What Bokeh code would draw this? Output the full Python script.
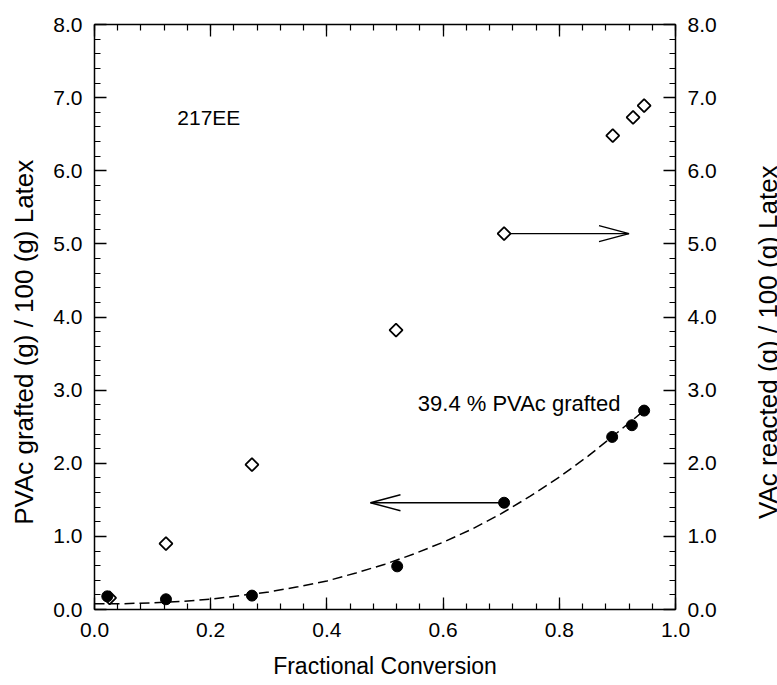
import math

from bokeh.embed import file_html
from bokeh.layouts import row
from bokeh.models import Label, LinearAxis, PrintfTickFormatter, Range1d, SingleIntervalTicker
from bokeh.plotting import figure
from bokeh.resources import INLINE

# PVAc grafted onto the latex (left axis) against fractional conversion
conversion = [0.022, 0.123, 0.271, 0.521, 0.705, 0.891, 0.925, 0.946]
pvac_grafted = [0.18, 0.14, 0.19, 0.59, 1.46, 2.36, 2.52, 2.72]

# VAc reacted (right axis) against fractional conversion
vac_conversion = [0.026, 0.123, 0.271, 0.519, 0.705, 0.892, 0.927, 0.946]
vac_reacted = [0.16, 0.90, 1.98, 3.82, 5.14, 6.48, 6.73, 6.89]

# fitted curve through the grafted PVAc points
fit_x = [0.0, 0.05, 0.1, 0.15, 0.2, 0.25, 0.3, 0.35, 0.4, 0.45, 0.5,
         0.55, 0.6, 0.65, 0.7, 0.75, 0.8, 0.85, 0.9, 0.946]
fit_y = [0.08, 0.08, 0.09, 0.11, 0.14, 0.19, 0.24, 0.31, 0.39, 0.50, 0.62,
         0.76, 0.92, 1.10, 1.31, 1.55, 1.81, 2.10, 2.42, 2.72]

x_tick_labels = ["0.0", "0.2", "0.4", "0.6", "0.8", "1.0"]
y_tick_labels = ["0.0", "1.0", "2.0", "3.0", "4.0", "5.0", "6.0", "7.0", "8.0"]

x_title = "Fractional Conversion"
left_title = "PVAc grafted (g) / 100 (g) Latex"
right_title = "VAc reacted (g) / 100 (g) Latex"
sample_name = "217EE"
graft_note = "39.4 % PVAc grafted"

FONT = "Liberation Sans"
W, H = 777, 685
STRIP_W = 20                      # narrow panel holding the right-hand title
MAIN_W = W - STRIP_W
LEFT, RIGHT, TOP, BOTTOM = 94, 102 - STRIP_W, 24, 76
FRAME_W = MAIN_W - LEFT - RIGHT
FRAME_H = H - TOP - BOTTOM

x_lo, x_hi = float(x_tick_labels[0]), float(x_tick_labels[-1])
y_lo, y_hi = float(y_tick_labels[0]), float(y_tick_labels[-1])
px_x = FRAME_W / (x_hi - x_lo)
px_y = FRAME_H / (y_hi - y_lo)

p = figure(
    width=MAIN_W, height=H,
    x_range=Range1d(x_lo, x_hi), y_range=Range1d(y_lo, y_hi),
    output_backend="svg", toolbar_location=None,
    min_border_left=LEFT, min_border_right=RIGHT,
    min_border_top=TOP, min_border_bottom=BOTTOM,
    x_axis_location=None, y_axis_location=None,
)
p.grid.visible = False
p.outline_line_color = None
p.background_fill_color = "white"
p.border_fill_color = "white"

x_ticker = SingleIntervalTicker(interval=0.2, num_minor_ticks=5)
y_ticker = SingleIntervalTicker(interval=1.0, num_minor_ticks=5)

# the left title sits a little below the middle of the axis
TITLE_PAD = "\u00a0" * 7


def make_axis(ticker, standoff, title=None, title_size="26px", title_standoff=10):
    ax = LinearAxis(ticker=ticker, formatter=PrintfTickFormatter(format="%.1f"))
    ax.axis_line_color = "black"
    ax.axis_line_width = 1.5
    ax.major_tick_in = 12
    ax.major_tick_out = 0
    ax.minor_tick_in = 6
    ax.minor_tick_out = 0
    ax.major_tick_line_width = 1.3
    ax.minor_tick_line_width = 1.2
    ax.major_tick_line_color = "black"
    ax.minor_tick_line_color = "black"
    ax.major_label_text_font = FONT
    ax.major_label_text_color = "black"
    ax.major_label_text_font_size = "21px"
    ax.major_label_standoff = standoff
    if title is not None:
        ax.axis_label = title
        ax.axis_label_text_font = FONT
        ax.axis_label_text_font_style = "normal"
        ax.axis_label_text_font_size = title_size
        ax.axis_label_text_color = "black"
        ax.axis_label_standoff = title_standoff
    return ax


p.add_layout(make_axis(x_ticker, 13, x_title, "23px", 13), "below")

top_axis = make_axis(x_ticker, 0)
top_axis.major_label_text_color = None
top_axis.major_label_text_font_size = "10px"
p.add_layout(top_axis, "above")

p.add_layout(make_axis(y_ticker, 12, left_title + TITLE_PAD, "26px", 11), "left")
p.add_layout(make_axis(y_ticker, 12), "right")

# dashed fit
p.line(fit_x, fit_y, line_color="black", line_width=1.5, line_dash="10 5")

# arrows pointing each series to its axis
head_len = 30 / px_x
head_half = 8 / px_y


def draw_arrow(x0, y0, x_tip):
    direction = 1 if x_tip > x0 else -1
    p.line([x0, x_tip], [y0, y0], line_color="black", line_width=1.4)
    back = x_tip - direction * head_len
    p.line([back, x_tip, back], [y0 + head_half, y0, y0 - head_half],
           line_color="black", line_width=1.4)


draw_arrow(conversion[4], pvac_grafted[4], 0.475)
draw_arrow(vac_conversion[4], vac_reacted[4], 0.920)

# open diamonds: VAc reacted
p.scatter(vac_conversion, vac_reacted, marker="square", angle=math.pi / 4,
          size=9.2, fill_color="white", line_color="black", line_width=1.8)

# filled circles: PVAc grafted
p.scatter(conversion, pvac_grafted, marker="circle", size=11,
          fill_color="black", line_color="black")

# annotations
p.add_layout(Label(x=0.1425, y=6.735, text=sample_name, text_font=FONT,
                   text_font_size="21px", text_color="black",
                   text_baseline="alphabetic", text_align="left"))
p.add_layout(Label(x=0.5565, y=2.814, text=graft_note, text_font=FONT,
                   text_font_size="22px", text_color="black",
                   text_baseline="alphabetic", text_align="left"))

# right-hand title, reading upwards, in a narrow strip beside the plot
strip = figure(
    width=STRIP_W, height=H,
    x_range=Range1d(0, STRIP_W), y_range=Range1d(0, H),
    output_backend="svg", toolbar_location=None, title=None,
    min_border=0, min_border_left=0, min_border_right=0,
    min_border_top=0, min_border_bottom=0,
    x_axis_location=None, y_axis_location=None,
)
strip.grid.visible = False
strip.outline_line_color = None
strip.background_fill_color = "white"
strip.border_fill_color = "white"
strip.add_layout(Label(x=10, y=313, text=right_title, angle=math.pi / 2,
                       text_font=FONT, text_font_size="26px", text_color="black",
                       text_baseline="middle", text_align="center"))

layout = row(p, strip, spacing=0)
open("out.html", "w").write(file_html(layout, INLINE))
